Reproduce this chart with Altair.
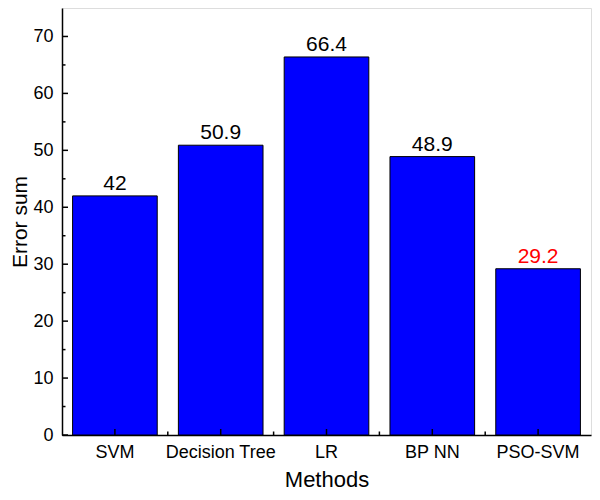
import altair as alt
import pandas as pd

methods = ["SVM", "Decision Tree", "LR", "BP NN", "PSO-SVM"]
values = [42, 50.9, 66.4, 48.9, 29.2]
labels = ["42", "50.9", "66.4", "48.9", "29.2"]
label_colors = ["black", "black", "black", "black", "red"]
y_major = [0, 10, 20, 30, 40, 50, 60, 70]
y_minor = [5, 15, 25, 35, 45, 55, 65]
x_minor = [1, 2, 3, 4]

W, H = 529, 427
FONT = "Liberation Sans"

df = pd.DataFrame({"method": methods, "value": values, "label": labels, "lc": label_colors})
ymaj = pd.DataFrame({"v": y_major})
ymin = pd.DataFrame({"v": y_minor})
xmin = pd.DataFrame({"b": x_minor})

xenc = alt.X("method:N", sort=methods,
             scale=alt.Scale(type="band", paddingInner=0.2, paddingOuter=0.1),
             axis=alt.Axis(title="Methods", ticks=False, labelAngle=0, labelFontSize=18,
                           labelPadding=8, titleFontSize=22, titlePadding=8,
                           titleFontWeight="normal", labelColor="black", titleColor="black",
                           domainColor="black", domainWidth=1.5))
yscale = alt.Scale(domain=[0, 75], nice=False)

bars = alt.Chart(df).mark_bar(color="#0000FF", stroke="black", strokeWidth=1).encode(
    x=xenc,
    y=alt.Y("value:Q", scale=yscale,
            axis=alt.Axis(title="Error sum", values=y_major, ticks=False, grid=False,
                          labelFontSize=18, labelPadding=9, titleFontSize=21, titlePadding=2,
                          titleFontWeight="normal", labelColor="black", titleColor="black",
                          domainColor="black", domainWidth=1.5)),
)

text = alt.Chart(df).mark_text(baseline="bottom", dy=-2, fontSize=21, font=FONT).encode(
    x=alt.X("method:N", sort=methods),
    y=alt.Y("value:Q"),
    text="label:N",
    color=alt.Color("lc:N", scale=None),
)

xmaj_ticks = alt.Chart(df).mark_rule(color="black", strokeWidth=1.5).encode(
    x=alt.X("method:N", sort=methods),
    y=alt.value(H), y2=alt.value(H - 6),
)

ymaj_ticks = alt.Chart(ymaj).mark_rule(color="black", strokeWidth=1.5).encode(
    y=alt.Y("v:Q"), x=alt.value(0), x2=alt.value(6),
)
ymin_ticks = alt.Chart(ymin).mark_rule(color="black", strokeWidth=1.5).encode(
    y=alt.Y("v:Q"), x=alt.value(0), x2=alt.value(3.5),
)

inner = alt.layer(bars, text, xmaj_ticks, ymaj_ticks, ymin_ticks)

xmin_ticks = alt.Chart(xmin).mark_rule(color="black", strokeWidth=1.5).encode(
    x=alt.X("b:Q", scale=alt.Scale(domain=[0, 5], nice=False), axis=None),
    y=alt.value(H), y2=alt.value(H - 3.5),
)

chart = alt.layer(inner, xmin_ticks).resolve_scale(x="independent").properties(
    width=W, height=H,
    autosize=alt.AutoSizeParams(type="none"),
    padding={"left": 54, "top": 0, "right": 1, "bottom": 57},
).configure_view(stroke="black", strokeWidth=1.5).configure(font=FONT)

chart.save("out.html", embed_options={"renderer": "svg", "actions": False})
